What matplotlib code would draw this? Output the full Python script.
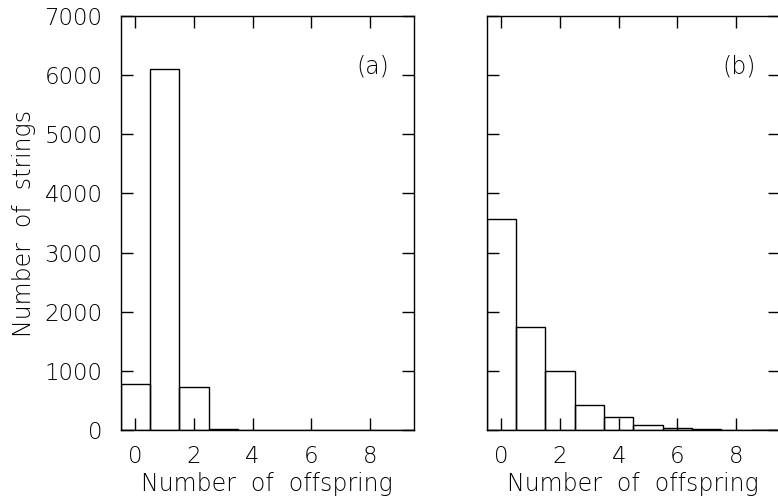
import numpy as np
import matplotlib
matplotlib.use('Agg')
from matplotlib import pyplot as plt

offspring = np.arange(10)
counts_a = [785, 6100, 720, 12, 0, 0, 0, 0, 0, 0]
counts_b = [3560, 1745, 1000, 425, 220, 80, 40, 15, 6, 4]
xticks = [0, 2, 4, 6, 8]
yticks = [0, 1000, 2000, 3000, 4000, 5000, 6000, 7000]

plt.rcParams['font.family'] = 'DejaVu Sans'
plt.rcParams['font.weight'] = 'light'
plt.rcParams['axes.labelweight'] = 'light'
fig = plt.figure(figsize=(7.78, 5.0), dpi=100)

ax1 = fig.add_axes([0.155, 0.14, 0.377, 0.828])
ax2 = fig.add_axes([0.6256, 0.14, 0.377, 0.828])

for ax, counts, tag in ((ax1, counts_a, '(a)'), (ax2, counts_b, '(b)')):
    ax.bar(offspring, counts, width=1.0, fill=False, edgecolor='black', linewidth=1.0)
    ax.set_xlim(-0.5, 9.5)
    ax.set_ylim(0, 7000)
    ax.set_xticks(xticks)
    ax.set_yticks(yticks)
    ax.tick_params(direction='in', length=8.5, width=1.0, top=True, right=True,
                   labelsize=16.5, colors='black')
    ax.tick_params(axis='x', pad=11)
    ax.tick_params(axis='y', pad=13)
    for s in ax.spines.values():
        s.set_linewidth(1.0)
    ax.set_xlabel('Number  of  offspring', fontsize=17, labelpad=3, color='black')
    ax.text(8.1, 6150, tag, fontsize=17, ha='center', va='center', color='black')

ax1.set_ylabel('Number  of  strings', fontsize=17, labelpad=6, color='black')
ax2.set_yticklabels([])

fig.savefig('out.png', dpi=100)
